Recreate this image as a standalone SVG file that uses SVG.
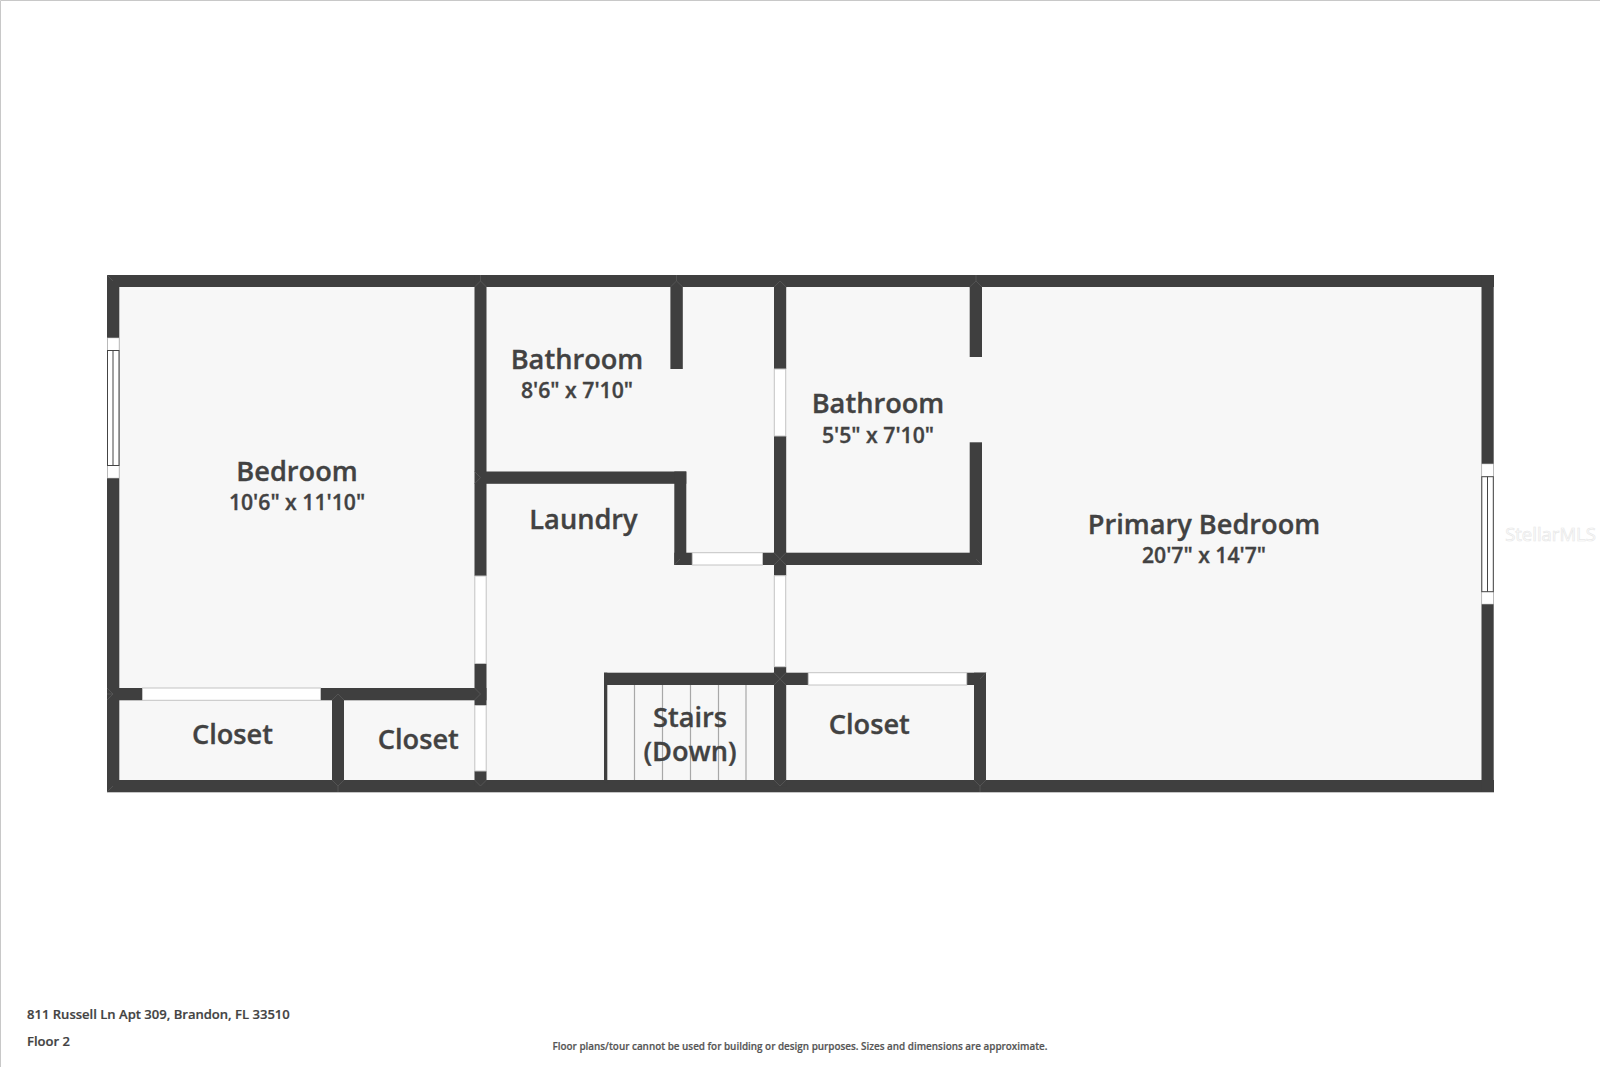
<svg xmlns="http://www.w3.org/2000/svg" width="1600" height="1067" viewBox="0 0 1600 1067">
<style>
text{font-family:"Open Sans","Noto Sans","Liberation Sans",sans-serif;font-weight:600;fill:#424242;stroke:#424242;stroke-width:.35;text-anchor:middle}
.n{font-size:27.2px}.d{font-size:21.2px}
.f{font-size:13.05px;text-anchor:start;stroke-width:.2}
.w{fill:#3f3f3f}
.m{fill:none;stroke:#5c5c5c;stroke-width:.7}
.o{fill:#fff;stroke:#c4c4c4;stroke-width:1}
.win{fill:#fff;stroke:#444;stroke-width:1}
.s{stroke:#a8a8a8;stroke-width:1.2;fill:none}
</style>
<rect width="1600" height="1067" fill="#fff"/>
<path d="M0.5 1067V0.5H1600" fill="none" stroke="#c8c8c8" stroke-width="1"/>
<g id="floor"><rect x="113" y="281" width="1374" height="505" fill="#f7f7f7"/></g>
<g id="stairs-treads" class="s">
<path d="M634.5 685V780M662.5 685V780M690.5 685V780M718.5 685V780M746 685V780"/>
</g>
<g id="walls" class="w">
<rect x="107" y="275" width="1387" height="12"/>
<rect x="107" y="780" width="1387" height="12.300"/>
<rect x="107" y="275" width="12.300" height="517"/>
<rect x="1481.500" y="275" width="12.200" height="517"/>
<rect x="474.500" y="275" width="12" height="301"/>
<rect x="474.500" y="663.500" width="12" height="42"/>
<rect x="474.500" y="771" width="12" height="15"/>
<rect x="107" y="688" width="35.500" height="12.300"/>
<rect x="320.500" y="688" width="166" height="12.300"/>
<rect x="332" y="688" width="12" height="100"/>
<rect x="486" y="471.500" width="200.300" height="12.300"/>
<rect x="674.300" y="471.500" width="12" height="93.500"/>
<rect x="674.300" y="552.700" width="18" height="12.300"/>
<rect x="762.500" y="552.700" width="219.500" height="12.300"/>
<rect x="670.400" y="281" width="12.400" height="88"/>
<rect x="774" y="281" width="12.200" height="88"/>
<rect x="774" y="436" width="12.200" height="139.700"/>
<rect x="774" y="666.700" width="12.200" height="120"/>
<rect x="969.700" y="281" width="12.300" height="76"/>
<rect x="969.700" y="442.300" width="12.300" height="122.700"/>
<rect x="604" y="672.700" width="204.300" height="12.300"/>
<rect x="966.700" y="672.700" width="19.300" height="12.300"/>
<rect x="974" y="672.700" width="12" height="115"/>
<rect x="604" y="672.700" width="3.300" height="110"/>
</g>
<path id="wall-joints" class="m" d="M107 275L113 281M107 792L113 786M474.500 287L480.500 281L486.500 287M480.500 281L480.500 275M670.400 287L676.500 281L682.800 287M676.500 281V275M774 287L780 281L786.200 287M969.700 287L976 281L982 287M976 281V275M332 780L338 786L344 780M338 786V792M474.500 780L480.500 786L486.500 780M774 780L780 786L786 780M974 780L980 786L986 780M980 786V792M113 694H107M107 688L113 694L107 700M474.500 471.500L480.500 477.500L474.500 483.800M474.500 688L480.500 694L474.500 700M332 700L338 694L344 700M674.300 565L680 559M982 565L976 559M986 672.700L980 679M774 552.700L786 565M786 552.700L774 565M774 672.700L786 685M786 672.700L774 685"/>
<g id="openings">
<rect class="o" x="142.500" y="688" width="178" height="12.300"/>
<rect class="o" x="474.800" y="576" width="11.400" height="87.500"/>
<rect class="o" x="474.800" y="705.500" width="11.400" height="65.500"/>
<rect class="o" x="692.300" y="552.700" width="70.200" height="12.300"/>
<rect class="o" x="774.300" y="369" width="11.400" height="67"/>
<rect class="o" x="774.300" y="575.700" width="11.400" height="91"/>
<rect class="o" x="808.300" y="672.700" width="158.400" height="12.300"/>
</g>
<g id="window-west">
<rect x="107.500" y="338" width="11.500" height="140" fill="#fff" stroke="#ccc" stroke-width=".6"/>
<rect class="win" x="107.500" y="350.500" width="11.500" height="115"/>
<path d="M113 350.500V465.500" stroke="#444" stroke-width="1"/>
</g>
<g id="window-east">
<rect x="1481.800" y="464" width="11.500" height="140" fill="#fff" stroke="#ccc" stroke-width=".6"/>
<rect class="win" x="1481.800" y="476.700" width="11.500" height="115"/>
<path d="M1487.500 476.700V591.700" stroke="#444" stroke-width="1"/>
</g>
<g id="bedroom"><text class="n" x="297" y="481">Bedroom</text><text class="d" x="297" y="510">10'6" x 11'10"</text></g>
<g id="closet-1"><text class="n" x="232.500" y="744">Closet</text></g>
<g id="closet-2"><text class="n" x="418.300" y="749">Closet</text></g>
<g id="bathroom-1"><text class="n" x="577" y="368.800">Bathroom</text><text class="d" x="577" y="397.800">8'6" x 7'10"</text></g>
<g id="bathroom-2"><text class="n" x="878" y="413.300">Bathroom</text><text class="d" x="878" y="442.800">5'5" x 7'10"</text></g>
<g id="laundry"><text class="n" x="583.500" y="528.800">Laundry</text></g>
<g id="stairs"><text class="n" x="690" y="727">Stairs</text><text class="n" x="690" y="761">(Down)</text></g>
<g id="closet-3"><text class="n" x="869.300" y="734">Closet</text></g>
<g id="primary-bedroom"><text class="n" x="1204" y="534">Primary Bedroom</text><text class="d" x="1204" y="562.800">20'7" x 14'7"</text></g>
<text id="watermark" x="1550.500" y="541" style="font-size:18.500px;font-weight:400;fill:#fff;stroke:#e8e8e8;stroke-width:.7">StellarMLS</text>
<g id="footer">
<text class="f" x="27" y="1019">811 Russell Ln Apt 309, Brandon, FL 33510</text>
<text class="f" x="27" y="1046">Floor 2</text>
<text x="800" y="1050" style="font-size:9.900px;fill:#555;stroke:#555;stroke-width:.2">Floor plans/tour cannot be used for building or design purposes. Sizes and dimensions are approximate.</text>
</g>
</svg>
